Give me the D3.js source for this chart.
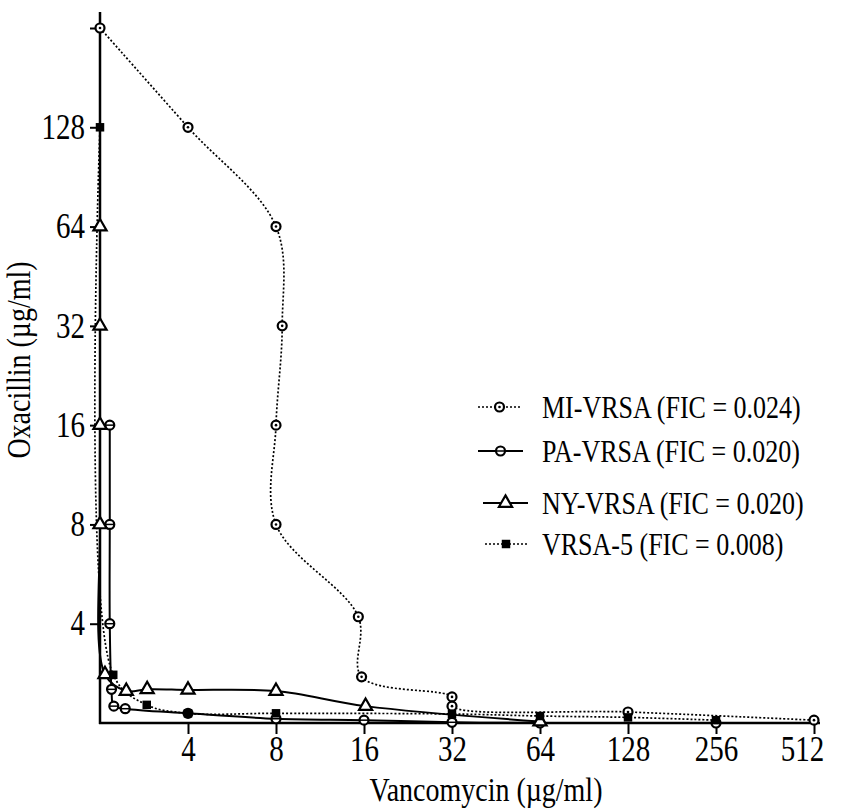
<!DOCTYPE html>
<html>
<head>
<meta charset="utf-8">
<script src="https://cdnjs.cloudflare.com/ajax/libs/d3/7.8.5/d3.min.js"></script>
<style>
body { margin: 0; background: #fff; }
svg text { font-family: "Liberation Serif", "DejaVu Serif", serif; fill: #000; }
</style>
</head>
<body>
<svg id="chart" width="846" height="809"></svg>
<script>
// --- data (µg/ml) ---
const xTicks = [4, 8, 16, 32, 64, 128, 256, 512];
const yTicks = [4, 8, 16, 32, 64, 128, 256];

const miVanc = [2, 4, 8, 8.4, 8, 8, 15.3, 15.7, 32, 32, 128, 512];
const miOxa  = [256, 128, 64, 32, 16, 8, 4.2, 2.76, 2.4, 2.25, 2.16, 2.04];

const paVanc = [2.16, 2.16, 2.16, 2.19, 2.23, 2.44, 4, 8, 16, 32, 64, 256];
const paOxa  = [16, 8, 4, 2.53, 2.25, 2.21, 2.14, 2.06, 2.04, 2.01, 2.0, 2.0];

const nyVanc = [2, 2, 2, 2, 2.08, 2.46, 2.9, 4, 8, 16.2, 64];
const nyOxa  = [64, 32, 16, 8, 2.81, 2.5, 2.53, 2.52, 2.5, 2.25, 2.02];

const v5Vanc = [2, 2.22, 2.89, 4, 8, 32, 64, 128, 256];
const v5Oxa  = [128, 2.8, 2.27, 2.14, 2.14, 2.13, 2.1, 2.08, 2.04];

const seriesNames = ["MI-VRSA (FIC = 0.024)", "PA-VRSA (FIC = 0.020)",
                     "NY-VRSA (FIC = 0.020)", "VRSA-5 (FIC = 0.008)"];

const zip = (xs, ys) => xs.map((v, i) => ({ x: v, y: ys[i] }));

const series = [
    { name: seriesNames[0], pts: zip(miVanc, miOxa), dash: "2,2", width: 1.7, mark: "dotCircle" },
    { name: seriesNames[1], pts: zip(paVanc, paOxa), dash: null,  width: 2,   mark: "barCircle" },
    { name: seriesNames[2], pts: zip(nyVanc, nyOxa), dash: null,  width: 2,   mark: "triangle" },
    { name: seriesNames[3], pts: zip(v5Vanc, v5Oxa), dash: "2,2", width: 1.7, mark: "square" }
];

// --- scales (the 256 -> 512 step is wider on the original) ---
const x = d3.scaleLog().base(2).domain([2, 256, 512]).range([100, 716, 814]);
const y = d3.scaleLog().base(2).domain([2, 256]).range([723, 28]);

const svg = d3.select("#chart");
const tickFont = 29;
const textFont = 26;
const titleFont = 28;
const stretch = 1.2; // the original type is drawn taller than it is wide

// axes
const yAxis = svg.append("g")
    .attr("transform", "translate(100,0)")
    .call(d3.axisLeft(y).tickValues(yTicks).tickSize(10).tickPadding(5)
        .tickFormat(d => d === 256 ? "" : d));
const xAxis = svg.append("g")
    .attr("transform", "translate(0,723)")
    .call(d3.axisBottom(x).tickValues(xTicks).tickSize(11).tickPadding(4)
        .tickFormat(d => d));
[yAxis, xAxis].forEach(g => {
    g.select(".domain").remove();
    g.selectAll(".tick line").attr("stroke", "#000").attr("stroke-width", 2);
    g.selectAll("text").style("font-size", tickFont + "px")
        .style("font-family", '"Liberation Serif", serif')
        .attr("transform", `scale(1,${stretch})`);
});
xAxis.selectAll("text").attr("y", 13 / stretch);
xAxis.selectAll(".tick").filter(d => d === 512).select("text").attr("dx", -12);

svg.append("line").attr("x1", 100).attr("x2", 100).attr("y1", 12).attr("y2", 724)
    .attr("stroke", "#000").attr("stroke-width", 2.5);
svg.append("line").attr("x1", 99).attr("x2", 820).attr("y1", 723).attr("y2", 723)
    .attr("stroke", "#000").attr("stroke-width", 2.5);

// axis titles
svg.append("text")
    .attr("transform", `translate(486,801) scale(1,${stretch})`)
    .attr("text-anchor", "middle")
    .style("font-size", titleFont + "px")
    .text("Vancomycin (µg/ml)");
svg.append("text")
    .attr("transform", `translate(30,360) scale(${stretch},1) rotate(-90) `)
    .attr("text-anchor", "middle")
    .style("font-size", titleFont + "px")
    .text("Oxacillin (µg/ml)");

// --- lines ---
const line = d3.line()
    .x(d => x(d.x))
    .y(d => y(d.y))
    .curve(d3.curveCatmullRom.alpha(0.5));

svg.append("g").selectAll("path")
    .data(series)
    .enter()
    .append("path")
    .attr("d", d => line(d.pts))
    .attr("fill", "none")
    .attr("stroke", "#000")
    .attr("stroke-width", d => d.width)
    .attr("stroke-dasharray", d => d.dash);

// --- markers ---
function drawMarker(g, kind, cx, cy) {
    if (kind === "dotCircle") {
        g.append("circle").attr("cx", cx).attr("cy", cy).attr("r", 4.5)
            .attr("fill", "#fff").attr("stroke", "#000").attr("stroke-width", 2.2);
        g.append("circle").attr("cx", cx).attr("cy", cy).attr("r", 1.3).attr("fill", "#000");
    } else if (kind === "barCircle") {
        g.append("circle").attr("cx", cx).attr("cy", cy).attr("r", 4.5)
            .attr("fill", "#fff").attr("stroke", "#000").attr("stroke-width", 2.2);
        g.append("line").attr("x1", cx - 4.5).attr("x2", cx + 4.5).attr("y1", cy).attr("y2", cy)
            .attr("stroke", "#000").attr("stroke-width", 1.5);
    } else if (kind === "triangle") {
        g.append("path").attr("d", d3.symbol(d3.symbolTriangle, 75)())
            .attr("transform", `translate(${cx},${cy})`)
            .attr("fill", "#fff").attr("stroke", "#000").attr("stroke-width", 2.2);
    } else {
        g.append("path").attr("d", d3.symbol(d3.symbolSquare, 72)())
            .attr("transform", `translate(${cx},${cy})`)
            .attr("fill", "#000");
    }
}

const markers = svg.append("g");
series.forEach(s => {
    s.pts.forEach(p => drawMarker(markers, s.mark, x(p.x), y(p.y)));
});

// --- legend ---
const legendRows = [407, 451, 503, 544];
const legendLine = [[478, 521], [478, 523], [483, 528], [485, 527]];
const legend = svg.append("g");
series.forEach((s, i) => {
    const ly = legendRows[i];
    const [a, b] = legendLine[i];
    legend.append("line").attr("x1", a).attr("x2", b).attr("y1", ly).attr("y2", ly)
        .attr("stroke", "#000").attr("stroke-width", s.width)
        .attr("stroke-dasharray", s.dash);
    drawMarker(legend, s.mark, (a + b) / 2, ly);
    legend.append("text")
        .attr("transform", `translate(542,${ly}) scale(1,${stretch + 0.05})`)
        .attr("dy", "0.35em")
        .style("font-size", textFont + "px")
        .text(s.name);
});
</script>
</body>
</html>
